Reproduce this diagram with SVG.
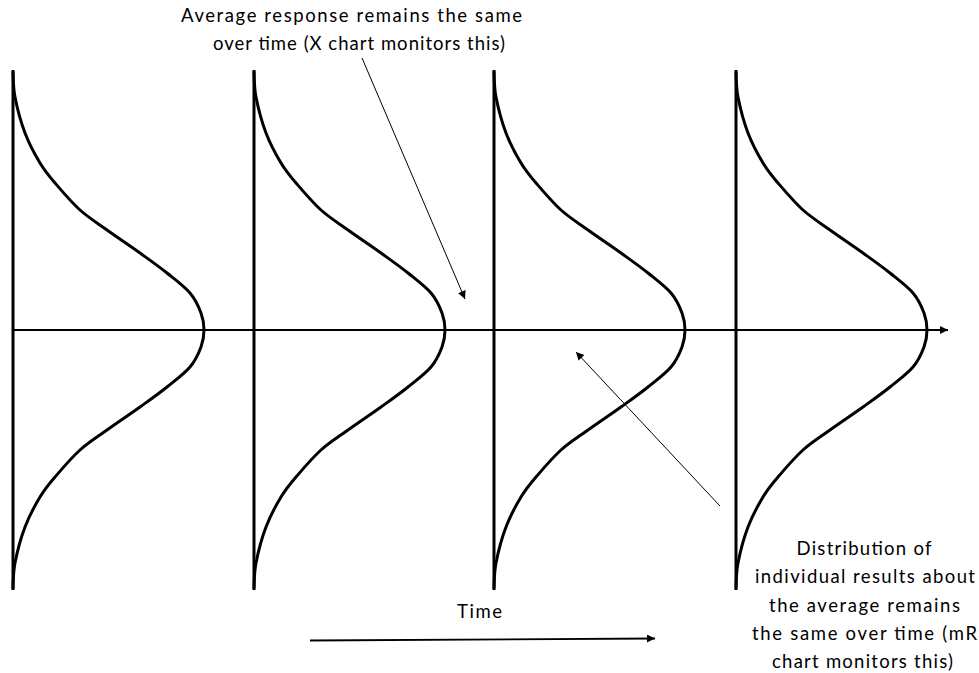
<svg xmlns="http://www.w3.org/2000/svg" xmlns:xlink="http://www.w3.org/1999/xlink" width="979" height="673" viewBox="0 0 979 673">
<style>
.bell{fill:none;stroke:#000;stroke-width:3;stroke-linejoin:round;stroke-linecap:round}
.vert{stroke:#000;stroke-width:3;fill:none}
.thin{stroke:#000;stroke-width:1;fill:none}
.axis{stroke:#000;stroke-width:2;fill:none}
.lbl{font-family:Lato,"Open Sans","Liberation Sans",sans-serif;font-size:18.5px;fill:#000}
</style>
<defs>
<marker id="ah" viewBox="0 0 10 10" refX="10" refY="5" markerWidth="10" markerHeight="8" markerUnits="userSpaceOnUse" orient="auto">
<path d="M0,0 L10,5 L0,10 z" fill="#000"/>
</marker>
<marker id="ahAxis" viewBox="0 0 10 10" refX="10" refY="5" markerWidth="10" markerHeight="8" markerUnits="userSpaceOnUse" orient="auto">
<path d="M0,0 L10,5 L0,10 z" fill="#000"/>
</marker>
<path id="bell" d="M0,-258 C0.3,-253.8 0,-243.2 2,-233 C4,-222.8 7.8,-208 12,-197 C16.2,-186 22,-175.3 27,-167 C32,-158.7 35.3,-154.8 42,-147 C48.7,-139.2 58.3,-127.8 67,-120 C75.7,-112.2 84,-107.2 94,-100 C104,-92.8 117,-84.2 127,-77 C137,-69.8 145.7,-63.7 154,-57 C162.3,-50.3 171.3,-43.7 177,-37 C182.7,-30.3 185.7,-23.2 188,-17 C190.3,-10.8 191,-5.5 191,0 C191,5.5 190.3,10.8 188,17 C185.7,23.2 182.7,30.3 177,37 C171.3,43.7 162.3,50.3 154,57 C145.7,63.7 137,69.8 127,77 C117,84.2 104,92.8 94,100 C84,107.2 75.7,112.2 67,120 C58.3,127.8 48.7,139.2 42,147 C35.3,154.8 32,158.7 27,167 C22,175.3 16.2,186 12,197 C7.8,208 4,222.8 2,233 C0,243.2 0.3,253.8 0,258"/>
</defs>
<rect width="979" height="673" fill="#fff"/>

<g id="dist1" transform="translate(13,330)">
<line class="vert" x1="0" y1="-260" x2="0" y2="260"/>
<use xlink:href="#bell" href="#bell" class="bell"/>
</g>
<g id="dist2" transform="translate(254,330)">
<line class="vert" x1="0" y1="-260" x2="0" y2="260"/>
<use xlink:href="#bell" href="#bell" class="bell"/>
</g>
<g id="dist3" transform="translate(494,330)">
<line class="vert" x1="0" y1="-260" x2="0" y2="260"/>
<use xlink:href="#bell" href="#bell" class="bell"/>
</g>
<g id="dist4" transform="translate(736,330)">
<line class="vert" x1="0" y1="-260" x2="0" y2="260"/>
<use xlink:href="#bell" href="#bell" class="bell"/>
</g>

<g id="connectors">
<line class="axis" x1="13" y1="330" x2="948" y2="330" marker-end="url(#ahAxis)"/>
<line class="thin" x1="362" y1="58" x2="465" y2="299" marker-end="url(#ah)"/>
<line class="thin" x1="720" y1="506" x2="576" y2="352" marker-end="url(#ah)"/>
<line class="thin" style="stroke-width:1.8" x1="310" y1="640.5" x2="655" y2="638.5" marker-end="url(#ah)"/>
</g>

<g id="label-average">
<text class="lbl" x="351.5" y="22" text-anchor="middle" textLength="341" lengthAdjust="spacing">Average response remains the same</text>
<text class="lbl" x="359" y="50" text-anchor="middle" textLength="292" lengthAdjust="spacing">over time (X chart monitors this)</text>
</g>
<g id="label-time">
<text class="lbl" x="479.5" y="618" text-anchor="middle" textLength="45" lengthAdjust="spacing">Time</text>
</g>
<g id="label-distribution">
<text class="lbl" x="864" y="555" text-anchor="middle" textLength="135" lengthAdjust="spacing">Distribution of</text>
<text class="lbl" x="865" y="583" text-anchor="middle" textLength="220" lengthAdjust="spacing">individual results about</text>
<text class="lbl" x="864.5" y="612" text-anchor="middle" textLength="191" lengthAdjust="spacing">the average remains</text>
<text class="lbl" x="864.5" y="640" text-anchor="middle" textLength="225" lengthAdjust="spacing">the same over time (mR</text>
<text class="lbl" x="862.5" y="668" text-anchor="middle" textLength="181" lengthAdjust="spacing">chart monitors this)</text>
</g>
</svg>
